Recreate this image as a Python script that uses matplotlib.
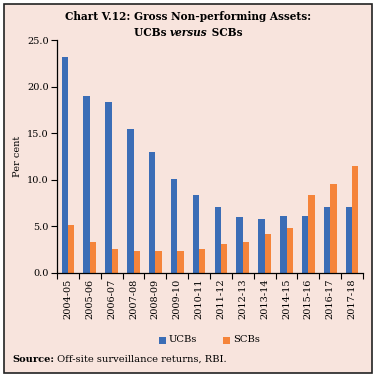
import numpy as np
import matplotlib.pyplot as plt
from matplotlib.patches import Rectangle

# data
years = ["2004-05", "2005-06", "2006-07", "2007-08", "2008-09", "2009-10", "2010-11",
         "2011-12", "2012-13", "2013-14", "2014-15", "2015-16", "2016-17", "2017-18"]
ucbs = [23.2, 19.0, 18.4, 15.5, 13.0, 10.1, 8.4, 7.1, 6.0, 5.8, 6.1, 6.1, 7.1, 7.1]
scbs = [5.2, 3.3, 2.6, 2.4, 2.4, 2.4, 2.6, 3.1, 3.3, 4.2, 4.8, 8.4, 9.5, 11.5]

BG = "#F8E4DD"
BLUE = "#3B6DB6"
ORANGE = "#F5843A"
FONT = "DejaVu Serif"
W, H = 378, 377

fig = plt.figure(figsize=(W / 100, H / 100), dpi=100)
fig.patch.set_facecolor("white")
# outer framed panel
fig.patches.append(Rectangle((4 / W, 4 / H), 368 / W, 369 / H, transform=fig.transFigure,
                             facecolor=BG, edgecolor="#222222", lw=1.2, zorder=-10))

ax = fig.add_axes([57 / W, (H - 273) / H, (363 - 57) / W, (273 - 40) / H])
ax.set_facecolor("none")

x = np.arange(len(years))
bw = 0.29
ax.bar(x - bw / 2, ucbs, bw, color=BLUE, label="UCBs")
ax.bar(x + bw / 2, scbs, bw, color=ORANGE, label="SCBs")

ax.set_ylim(0, 25)
ax.set_yticks(np.arange(0, 25.1, 5))
ax.set_yticklabels([f"{v:.1f}" for v in np.arange(0, 25.1, 5)], fontfamily=FONT, fontsize=7)
ax.set_xlim(-0.5, len(years) - 0.5)
ax.set_xticks(x)
ax.set_xticklabels(years, rotation=90, fontfamily=FONT, fontsize=7)
ax.set_xticks(np.arange(-0.5, len(years)), minor=True)
ax.tick_params(axis="x", which="major", length=0, pad=4)
ax.tick_params(axis="x", which="minor", length=4, width=0.8, direction="out")
ax.tick_params(axis="y", length=4, width=0.8, direction="out", pad=2)
for s in ["top", "right"]:
    ax.spines[s].set_visible(False)
for s in ["left", "bottom"]:
    ax.spines[s].set_linewidth(0.9)
ax.set_ylabel("Per cent", fontfamily=FONT, fontsize=7)
ax.yaxis.set_label_coords(-0.115, 0.5)

fig.canvas.draw()
renderer = fig.canvas.get_renderer()


def pieces(parts, cx, cy, size, align="center"):
    # draw a line of text made of pieces with different styles
    items = []
    total = 0
    for txt, weight, style in parts:
        t = fig.text(0, 0, txt, fontfamily=FONT, fontsize=size, fontweight=weight,
                     fontstyle=style, va="center", ha="left")
        w = t.get_window_extent(renderer).width
        items.append((t, w))
        total += w
    start = cx - total / 2 if align == "center" else cx
    for t, w in items:
        t.set_position((start / W, 1 - cy / H))
        start += w


pieces([("Chart V.12: Gross Non-performing Assets:", "bold", "normal")], 188, 17, 7.6)
pieces([("UCBs ", "bold", "normal"), ("versus", "bold", "italic"), (" SCBs", "bold", "normal")],
       188, 32, 7.6)

# legend
fig.patches.append(Rectangle((159 / W, 1 - 344 / H), 7 / W, 7 / H, transform=fig.transFigure,
                             facecolor=BLUE, edgecolor="none"))
fig.text(169 / W, 1 - 340 / H, "UCBs", fontfamily=FONT, fontsize=7.2, va="center")
fig.patches.append(Rectangle((223 / W, 1 - 344 / H), 7 / W, 7 / H, transform=fig.transFigure,
                             facecolor=ORANGE, edgecolor="none"))
fig.text(233 / W, 1 - 340 / H, "SCBs", fontfamily=FONT, fontsize=7.2, va="center")

pieces([("Source:", "bold", "normal"), (" Off-site surveillance returns, RBI.", "normal", "normal")],
       12, 359, 7.1, align="left")

fig.savefig("out.png", dpi=100, facecolor=fig.get_facecolor())
